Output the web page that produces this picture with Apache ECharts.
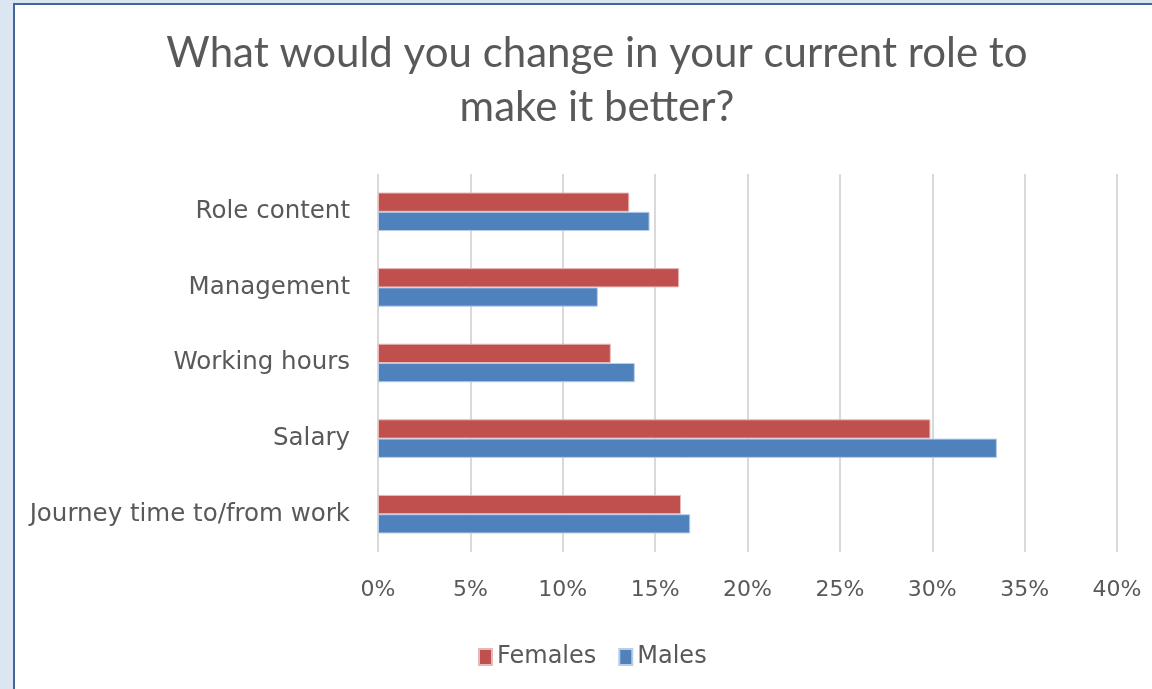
<!DOCTYPE html>
<html><head><meta charset="utf-8">
<script src="https://cdn.jsdelivr.net/npm/echarts@6/dist/echarts.min.js"></script>
<style>
html,body{margin:0;padding:0;width:1152px;height:689px;overflow:hidden;background:#dce6f2;}
#frame{position:absolute;left:13px;top:3px;width:1200px;height:760px;background:#fff;border-left:2px solid #44659a;border-top:2px solid #44659a;}
#chart{position:absolute;left:0;top:0;width:1152px;height:689px;}
</style></head>
<body>
<div id="frame"></div>
<div id="chart"></div>
<script>
const categories = ['Role content','Management','Working hours','Salary','Journey time to/from work'];
const females = [13.6, 16.3, 12.6, 29.9, 16.4];
const males = [14.7, 11.9, 13.9, 33.5, 16.9];
const xTicks = [0,5,10,15,20,25,30,35,40];

const chart = echarts.init(document.getElementById('chart'));
chart.setOption({
  backgroundColor: 'transparent',
  animation: false,
  title: {
    text: 'What would you change in your current role to\nmake it better?',
    left: 592, textAlign: 'center', top: 21,
    textStyle: {fontFamily: 'Lato', fontSize: 42, fontWeight: 'normal', color: '#595959', lineHeight: 54}
  },
  legend: {
    data: ['Females','Males'], top: 640, left: 473,
    icon: 'rect', itemWidth: 13, itemHeight: 16, itemGap: 22,
    textStyle: {fontFamily: 'DejaVu Sans', fontSize: 24, color: '#595959', padding: [0,0,0,0]}
  },
  grid: {left: 378, right: 35, top: 174, bottom: 137, containLabel: false},
  xAxis: {
    type: 'value', min: xTicks[0], max: xTicks[xTicks.length-1], interval: 5,
    axisLine: {show: false}, axisTick: {show: false},
    axisLabel: {formatter: v => v + '%', fontFamily: 'DejaVu Sans', fontSize: 22, color: '#595959', margin: 27},
    splitLine: {lineStyle: {color: '#d9d9d9', width: 2}}
  },
  yAxis: {
    type: 'category', data: categories, inverse: true,
    axisLine: {show: false}, axisTick: {show: false},
    axisLabel: {fontFamily: 'DejaVu Sans', fontSize: 24.5, color: '#595959', margin: 28}
  },
  series: [
    {name: 'Females', type: 'bar', data: females, barGap: '0%', barCategoryGap: '49%',
     itemStyle: {color: '#c0504d', borderColor: '#e6b9b8', borderWidth: 1}},
    {name: 'Males', type: 'bar', data: males, barGap: '0%', barCategoryGap: '49%',
     itemStyle: {color: '#4f81bd', borderColor: '#b9cde5', borderWidth: 1}}
  ]
});
</script>
</body></html>
